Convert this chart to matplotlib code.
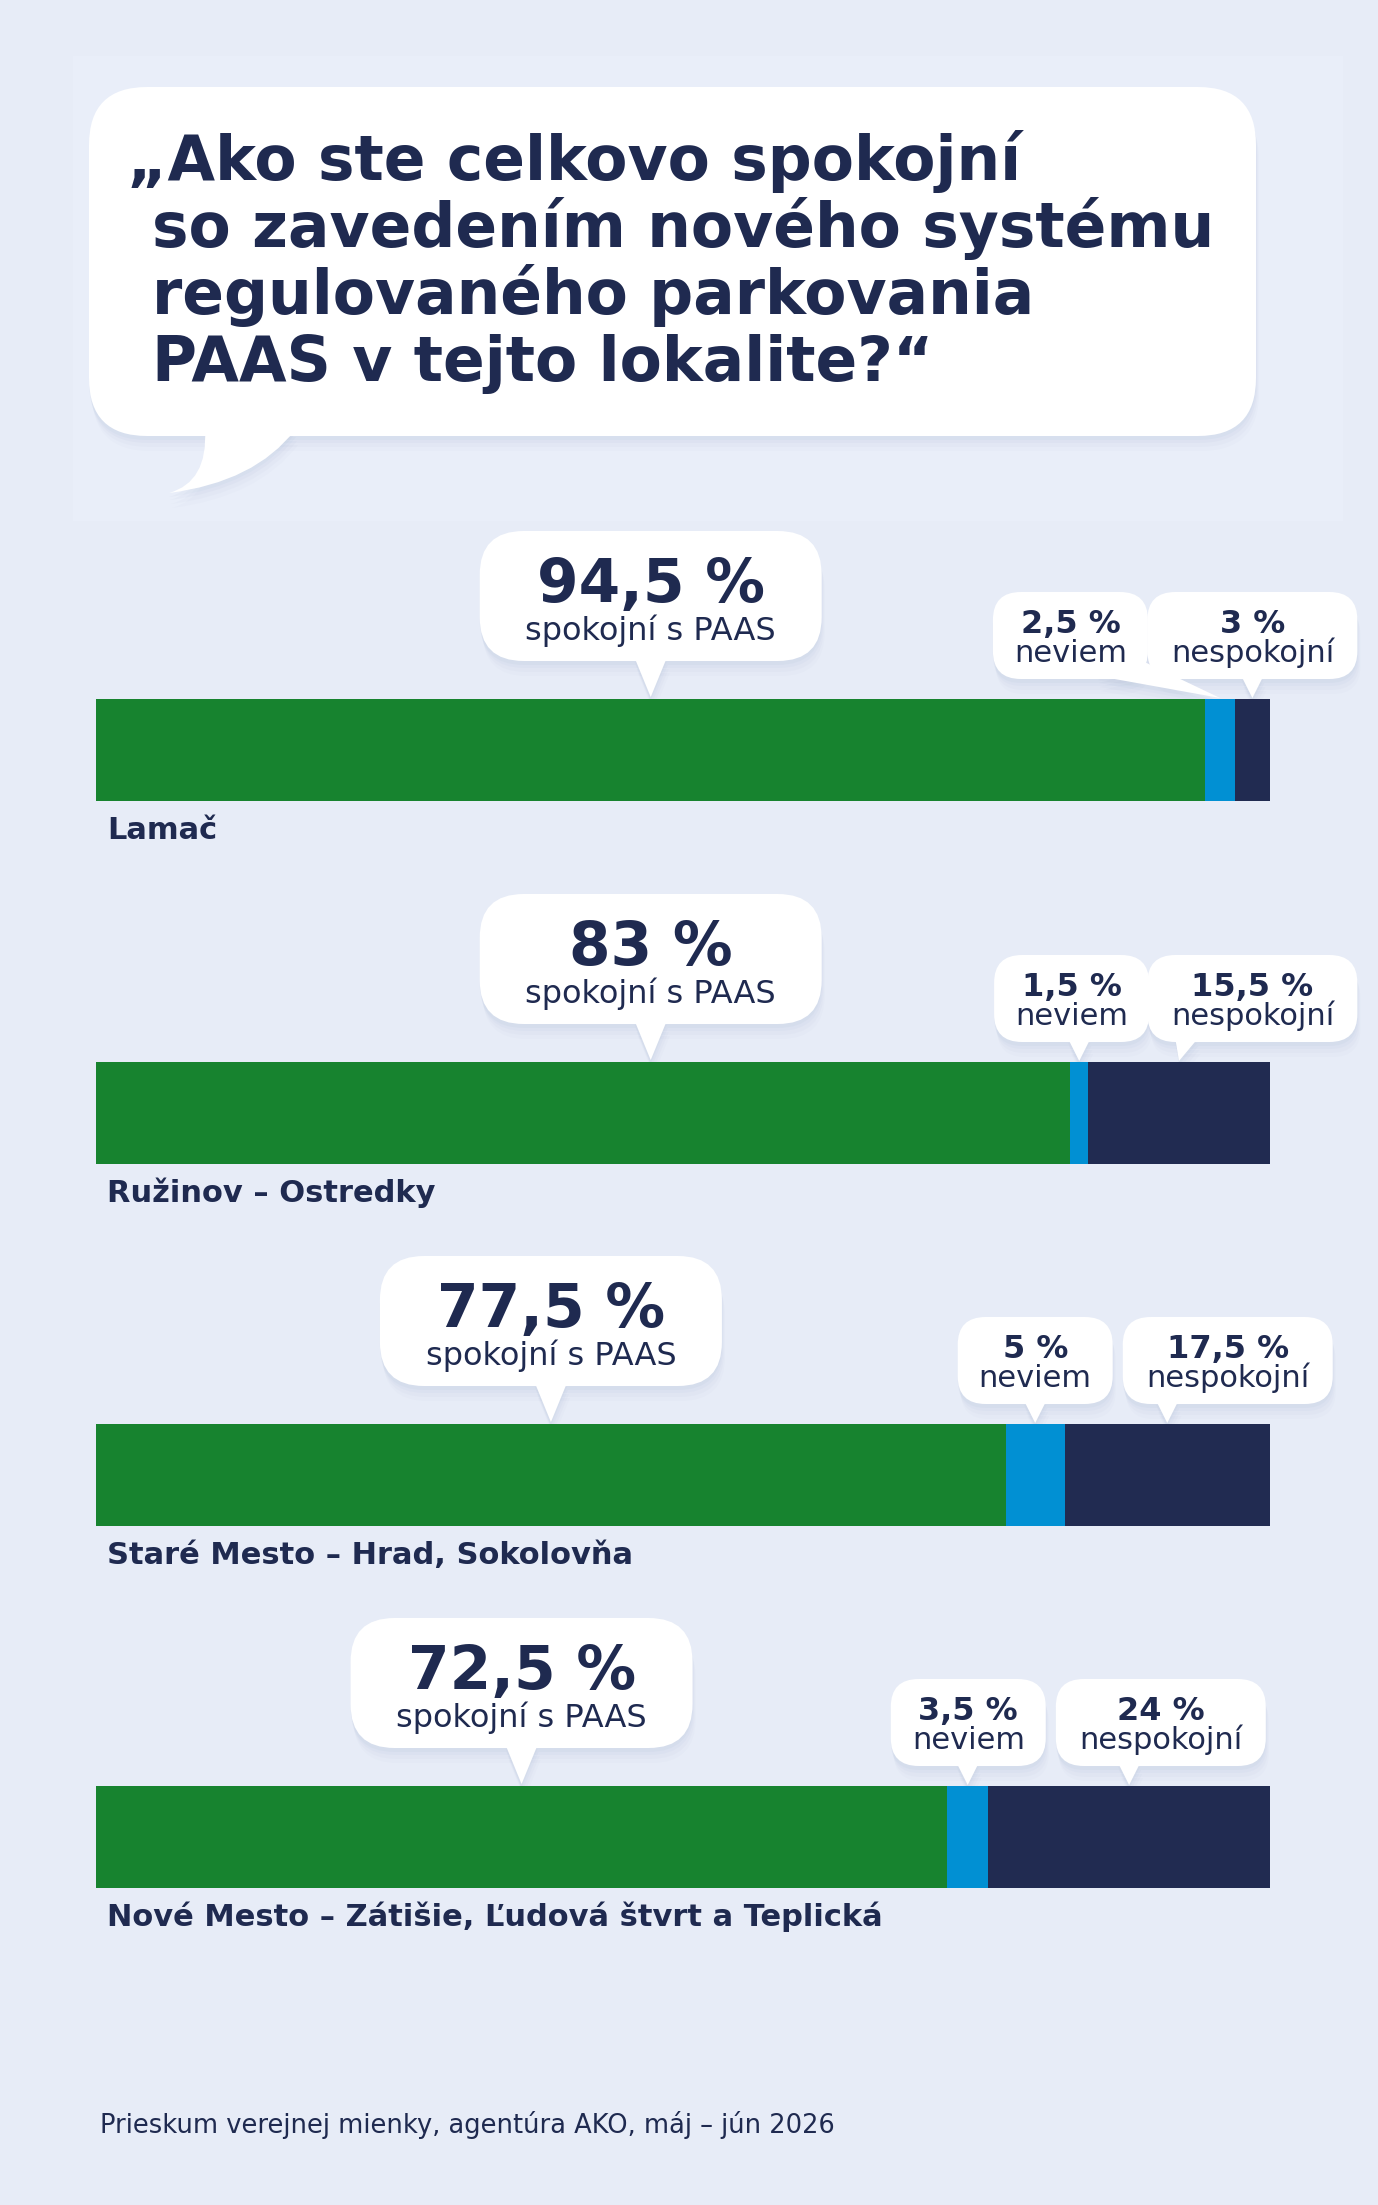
import matplotlib
matplotlib.use("Agg")
import matplotlib.pyplot as plt
from matplotlib.patches import FancyBboxPatch, Polygon, PathPatch, Rectangle
from matplotlib.path import Path

# data
locations = ["Lamač", "Ružinov – Ostredky", "Staré Mesto – Hrad, Sokolovňa",
             "Nové Mesto – Zátišie, Ľudová štvrt a Teplická"]
spokojni = [94.5, 83, 77.5, 72.5]
neviem = [2.5, 1.5, 5, 3.5]
nespokojni = [3, 15.5, 17.5, 24]

title_lines = ["„Ako ste celkovo spokojní", "so zavedením nového systému",
               "regulovaného parkovania", "PAAS v tejto lokalite?“"]
footer = "Prieskum verejnej mienky, agentúra AKO, máj – jún 2026"

# colours
BG = "#E7ECF7"
NAVY = "#1F2A50"
GREEN = "#17832F"
BLUE = "#0190D3"
DARK = "#212B51"
SHADOW = "#8C9CC2"

# layout (pixels)
W, H = 1378, 2205
bar_tops = [699, 1062, 1424, 1786]
bar_h = 102
bar_x0, bar_x1 = 96, 1270
big_anchor = [47.25, 47.25, 38.75, 36.25]   # where the big callout sits, % of bar
neviem_box = [83.0, 83.1, 80.0, 74.3]
nesp_box = [98.5, 98.5, 96.4, 90.7]


def pct(v):
    return ("%g" % v).replace(".", ",") + " %"


fig = plt.figure(figsize=(W / 100, H / 100), dpi=100)
fig.patch.set_facecolor(BG)
bg = fig.add_axes([0, 0, 1, 1])
bg.set_xlim(0, W)
bg.set_ylim(H, 0)
bg.axis("off")

bg.add_patch(Rectangle((73, 56), 1270, 465, fc="#E9EEF9", ec="none", zorder=0))


def shadow_layers():
    return [(0, 4, 0.06), (1, 7, 0.05), (2, 11, 0.04), (3, 15, 0.03)]


def bubble(cx, top, bottom, w, r, tip, base_hw):
    left = cx - w / 2
    right = left + w
    if tip[0] > right - r - base_hw:
        # pointer leaves from the lower right corner towards the bar
        bx = right - r - base_hw
        tri = [(bx - base_hw, bottom - 3), (right - 3, bottom - r * 0.6), tip]
    else:
        bx = max(tip[0], left + r + base_hw)
        tri = [(bx - base_hw, bottom - 3), (bx + base_hw, bottom - 3), tip]
    for dx, dy, a in shadow_layers():
        bg.add_patch(FancyBboxPatch((left + dx, top + dy), w, bottom - top,
                                    boxstyle="round,pad=0,rounding_size=%d" % r,
                                    fc=SHADOW, ec="none", alpha=a, zorder=1))
        bg.add_patch(Polygon([(x + dx, y + dy) for x, y in tri], fc=SHADOW,
                             ec="none", alpha=a, zorder=1))
    bg.add_patch(FancyBboxPatch((left, top), w, bottom - top,
                                boxstyle="round,pad=0,rounding_size=%d" % r,
                                fc="white", ec="none", zorder=2))
    bg.add_patch(Polygon(tri, fc="white", ec="none", zorder=2))


# title bubble with tail
tail = Path([(205, 430), (208, 482), (169, 493), (255, 482), (295, 430), (205, 430)],
            [Path.MOVETO, Path.CURVE3, Path.CURVE3, Path.CURVE3, Path.CURVE3, Path.CLOSEPOLY])
for dx, dy, a in shadow_layers():
    bg.add_patch(FancyBboxPatch((89 + dx, 87 + dy), 1167, 349,
                                boxstyle="round,pad=0,rounding_size=58",
                                fc=SHADOW, ec="none", alpha=a, zorder=1))
    bg.add_patch(PathPatch(tail.transformed(matplotlib.transforms.Affine2D().translate(dx, dy)),
                           fc=SHADOW, ec="none", alpha=a, zorder=1))
bg.add_patch(FancyBboxPatch((89, 87), 1167, 349, boxstyle="round,pad=0,rounding_size=58",
                            fc="white", ec="none", zorder=2))
bg.add_patch(PathPatch(tail, fc="white", ec="none", zorder=2))

title_x = [127, 152, 152, 152]
for i, line in enumerate(title_lines):
    bg.text(title_x[i], 180 + 67 * i, line, fontsize=44.3, fontweight="bold",
            color=NAVY, va="baseline", ha="left", zorder=3)

# bars
for i, loc in enumerate(locations):
    top = bar_tops[i]
    ax = fig.add_axes([bar_x0 / W, 1 - (top + bar_h) / H, (bar_x1 - bar_x0) / W, bar_h / H])
    ax.set_xlim(0, 100)
    ax.set_ylim(0, 1)
    ax.axis("off")
    vals = [spokojni[i], neviem[i], nespokojni[i]]
    lefts = [0, spokojni[i], spokojni[i] + neviem[i]]
    ax.barh([0.5] * 3, vals, left=lefts, height=1, color=[GREEN, BLUE, DARK])

    def px(v):
        p = ax.transData.transform((v, 1))
        return bg.transData.inverted().transform(p)[0]

    # big callout
    cx = px(big_anchor[i])
    bubble(cx, top - 168, top - 38, 342, 44, (cx, top - 2), 16)
    bg.text(cx, top - 97, pct(spokojni[i]), fontsize=43, fontweight="bold",
            color=NAVY, ha="center", va="baseline", zorder=3)
    bg.text(cx, top - 59, "spokojní s PAAS", fontsize=23, color=NAVY,
            ha="center", va="baseline", zorder=3)

    # small callouts
    tip_n = px(spokojni[i] + neviem[i] / 2)
    tip_d = px(spokojni[i] + neviem[i] + nespokojni[i] / 2)
    bn = px(neviem_box[i])
    bd = px(nesp_box[i])
    bubble(bn, top - 107, top - 20, 155, 28, (tip_n, top - 1), 11)
    bubble(bd, top - 107, top - 20, 210, 28, (tip_d, top - 1), 11)
    for bx, v, word in [(bn, neviem[i], "neviem"), (bd, nespokojni[i], "nespokojní")]:
        bg.text(bx, top - 66, pct(v), fontsize=23, fontweight="bold", color=NAVY,
                ha="center", va="baseline", zorder=3)
        bg.text(bx, top - 37, word, fontsize=22, color=NAVY,
                ha="center", va="baseline", zorder=3)

    bg.text(107, top + bar_h + 38, loc, fontsize=22, fontweight="bold",
            color=NAVY, ha="left", va="baseline")

bg.text(100, 2133, footer, fontsize=18.5, color=NAVY, ha="left", va="baseline")

fig.savefig("out.png", dpi=100, facecolor=BG)
